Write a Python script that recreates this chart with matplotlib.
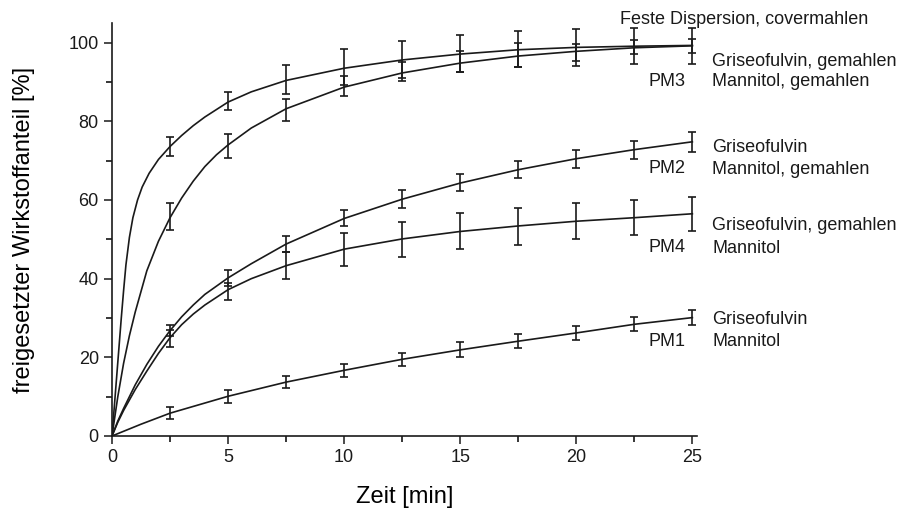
import matplotlib
matplotlib.use("Agg")
import matplotlib.pyplot as plt
from matplotlib.ticker import MultipleLocator

plt.rcParams['font.family'] = ['Liberation Sans', 'DejaVu Sans']

# sampling times (min) with measured means and standard deviations
t_meas = [2.5, 5, 7.5, 10, 12.5, 15, 17.5, 20, 22.5, 25]

fd_mean = [73.6, 85.1, 90.6, 93.8, 95.7, 97.2, 98.4, 98.8, 99.1, 99.2]
fd_err = [2.3, 2.3, 3.6, 4.6, 4.8, 4.7, 4.5, 4.7, 4.6, 4.5]

pm3_mean = [55.8, 73.7, 82.9, 88.9, 92.7, 95.2, 96.9, 97.5, 98.8, 99.2]
pm3_err = [3.4, 3.0, 2.7, 2.5, 2.5, 2.6, 3.0, 2.2, 1.8, 1.8]

pm2_mean = [26.8, 40.1, 48.9, 55.4, 60.3, 64.4, 67.8, 70.4, 72.7, 74.7]
pm2_err = [1.5, 2.0, 2.0, 2.1, 2.3, 2.2, 2.2, 2.3, 2.4, 2.6]

pm4_mean = [24.8, 36.8, 43.4, 47.4, 50.0, 52.1, 53.3, 54.6, 55.5, 56.5]
pm4_err = [2.2, 2.2, 3.5, 4.2, 4.5, 4.6, 4.7, 4.6, 4.4, 4.3]

pm1_mean = [5.8, 10.1, 13.7, 16.7, 19.5, 21.9, 24.1, 26.2, 28.4, 30.1]
pm1_err = [1.5, 1.6, 1.6, 1.6, 1.7, 1.9, 1.8, 1.8, 1.8, 2.0]

# fitted release curves
fd_t = [0, 0.1, 0.2, 0.3, 0.4, 0.5, 0.6, 0.75, 0.9, 1.1, 1.3, 1.6, 2.0, 2.5,
        3.0, 3.5, 4.0, 5, 6, 7.5, 10, 12.5, 15, 17.5, 20, 22.5, 25]
fd_fit = [0, 7.5, 15, 22.5, 30, 37, 43.5, 50.5, 55.5, 60, 63.3, 66.8, 70.3, 73.6,
          76.4, 78.9, 81.1, 84.9, 87.5, 90.4, 93.5, 95.6, 97.1, 98.2, 98.8, 99.1, 99.3]

pm3_t = [0, 0.25, 0.5, 0.75, 1.0, 1.5, 2.0, 2.5, 3.0, 3.5, 4.0, 4.5, 5, 6, 7.5,
         10, 12.5, 15, 17.5, 20, 22.5, 25]
pm3_fit = [0, 10, 18.5, 25.5, 31.5, 42, 49.5, 55.5, 60.5, 64.8, 68.5, 71.5, 74, 78.3, 83.2,
           88.7, 92.3, 94.8, 96.6, 97.8, 98.7, 99.2]

pm2_t = [0, 0.25, 0.5, 1.0, 1.5, 2.0, 2.5, 3.0, 3.5, 4.0, 5, 6, 7.5, 10,
         12.5, 15, 17.5, 20, 22.5, 25]
pm2_fit = [0, 3.8, 7, 13, 18.2, 22.8, 26.8, 30.3, 33.3, 36, 40.2, 43.8, 48.8, 55.3,
           60.2, 64.3, 67.7, 70.5, 72.8, 74.8]

pm4_t = [0, 0.25, 0.5, 1.0, 1.5, 2.0, 2.5, 3.0, 3.5, 4.0, 5, 6, 7.5, 10,
         12.5, 15, 17.5, 20, 22.5, 25]
pm4_fit = [0, 3.5, 6.5, 11.8, 16.5, 21, 25, 28.3, 31, 33.3, 37.2, 40, 43.3, 47.5,
           50.1, 52.0, 53.4, 54.6, 55.5, 56.5]

pm1_t = [0, 1.25, 2.5, 5, 7.5, 10, 12.5, 15, 17.5, 20, 22.5, 25]
pm1_fit = [0, 3.0, 5.8, 10.1, 13.7, 16.7, 19.5, 21.9, 24.1, 26.2, 28.4, 30.1]

series = [
    (fd_t, fd_fit, fd_mean, fd_err),
    (pm3_t, pm3_fit, pm3_mean, pm3_err),
    (pm2_t, pm2_fit, pm2_mean, pm2_err),
    (pm4_t, pm4_fit, pm4_mean, pm4_err),
    (pm1_t, pm1_fit, pm1_mean, pm1_err),
]

W, H = 901, 514
fig = plt.figure(figsize=(W / 100, H / 100), dpi=100)
ax = fig.add_axes([112 / W, 1 - 436 / H, (697 - 112) / W, (436 - 23) / H])

for tc, vc, m, e in series:
    ax.plot(tc, vc, color='#1a1a1a', lw=1.2)
    ax.errorbar(t_meas, m, yerr=e, fmt='none', ecolor='#1a1a1a',
                elinewidth=1.2, capsize=3.2, capthick=1.2)

ax.set_xlim(0, 25.2)
ax.set_ylim(0, 105)
ax.xaxis.set_major_locator(MultipleLocator(5))
ax.xaxis.set_minor_locator(MultipleLocator(2.5))
ax.yaxis.set_major_locator(MultipleLocator(20))
ax.yaxis.set_minor_locator(MultipleLocator(10))
ax.tick_params(which='major', direction='out', length=6, width=1.1, labelsize=13,
               colors='#1a1a1a')
ax.tick_params(which='minor', direction='out', length=4, width=1.1)
for side in ('top', 'right'):
    ax.spines[side].set_visible(False)
for side in ('left', 'bottom'):
    ax.spines[side].set_linewidth(1.2)
    ax.spines[side].set_color('#1a1a1a')

ax.set_xlabel('Zeit [min]', fontsize=17, labelpad=14)
ax.set_ylabel('freigesetzter Wirkstoffanteil [%]', fontsize=17, labelpad=24)

# labels to the right of the curves (pixel positions)
labels = [
    (620, 19, 'Feste Dispersion, covermahlen'),
    (712, 61, 'Griseofulvin, gemahlen'),
    (648, 82, 'PM3'),
    (712, 82, 'Mannitol, gemahlen'),
    (712, 148, 'Griseofulvin'),
    (648, 169, 'PM2'),
    (712, 170, 'Mannitol, gemahlen'),
    (712, 226, 'Griseofulvin, gemahlen'),
    (648, 247, 'PM4'),
    (712, 248, 'Mannitol'),
    (712, 320, 'Griseofulvin'),
    (648, 342, 'PM1'),
    (712, 342, 'Mannitol'),
]
for x, y, s in labels:
    fig.text(x / W, 1 - y / H, s, fontsize=13, ha='left', va='center',
             color='#1a1a1a')

fig.savefig('out.png', dpi=100)
